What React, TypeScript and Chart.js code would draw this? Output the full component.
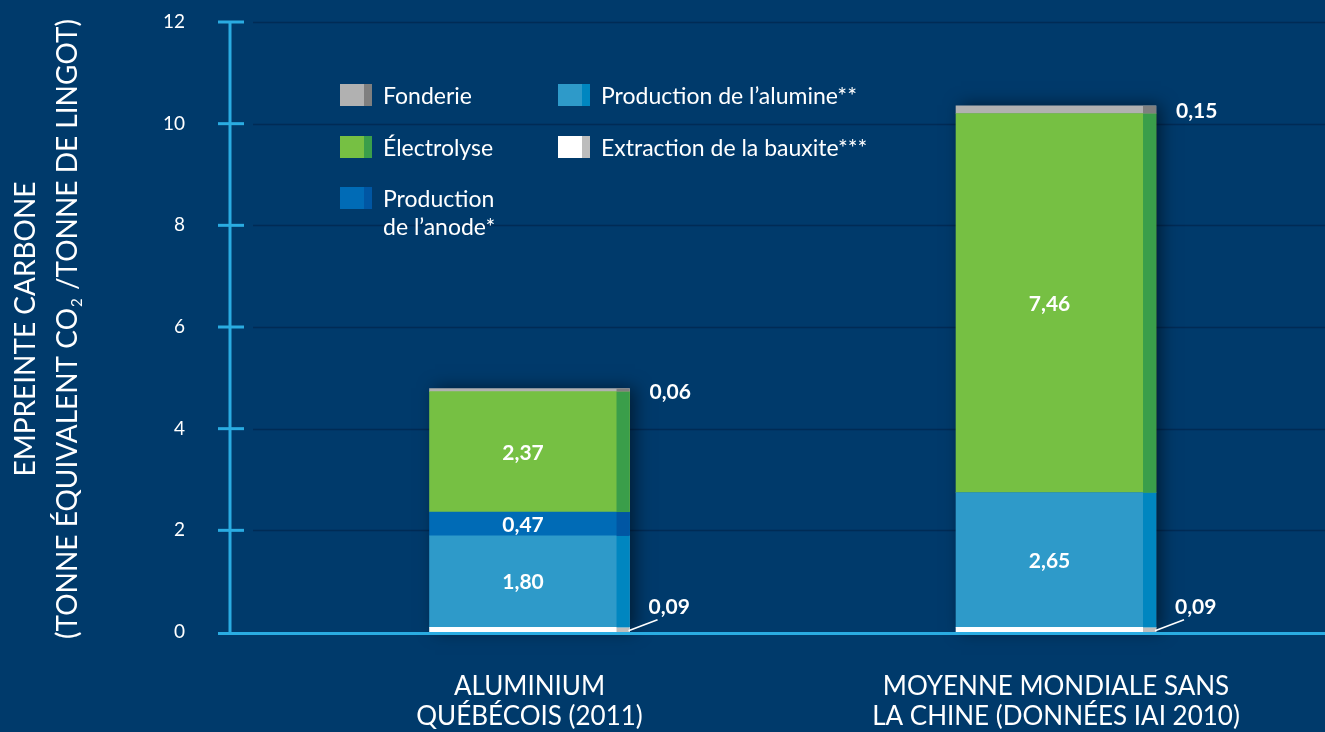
import React, { useEffect, useRef } from 'react';
import { Chart, registerables } from 'chart.js';

Chart.register(...registerables);

// ---------- data ----------
const categories: string[][] = [
  ['ALUMINIUM', 'QUÉBÉCOIS (2011)'],
  ['MOYENNE MONDIALE SANS', 'LA CHINE (DONNÉES IAI 2010)'],
];
const categoryPositions = [0, 1];

const seriesNames = [
  'Extraction de la bauxite***',
  'Production de l’alumine**',
  'Production de l’anode*',
  'Électrolyse',
  'Fonderie',
];
const bauxiteValues = [0.09, 0.09];
const alumineValues = [1.8, 2.65];
const anodeValues = [0.47, 0];
const electrolyseValues = [2.37, 7.46];
const fonderieValues = [0.06, 0.15];
const seriesValues = [bauxiteValues, alumineValues, anodeValues, electrolyseValues, fonderieValues];

const yTickValues = [0, 2, 4, 6, 8, 10, 12];
const yTitleLines = ['EMPREINTE CARBONE', '(TONNE ÉQUIVALENT CO₂ /TONNE DE LINGOT)'];

// ---------- style ----------
const BG = '#003A6B';
const GRID = '#002B55';
const AXIS = '#2AACE2';
const FONT = "Lato, 'Open Sans', sans-serif";
const fills = ['#FFFFFF', '#2E9AC9', '#006BB6', '#76C043', '#B1B1B1'];
const strips = ['#BDBDBD', '#0086C0', '#0056A3', '#3A9E4A', '#7F7F7F'];
const labelModes = ['leader', 'inside', 'inside', 'inside', 'outside'];
const legendSlots = [
  { x: 558, y: 136, wrap: false },
  { x: 558, y: 84, wrap: false },
  { x: 340, y: 187, wrap: true },
  { x: 340, y: 136, wrap: false },
  { x: 340, y: 84, wrap: false },
];
const STRIP = 13;

const fmt = (v: number) => v.toFixed(2).replace('.', ',');

const customPlugin = {
  id: 'customDraw',
  beforeDraw(chart: any) {
    const ctx = chart.ctx;
    ctx.save();
    ctx.fillStyle = BG;
    ctx.fillRect(0, 0, chart.width, chart.height);
    ctx.restore();
  },
  beforeDatasetsDraw(chart: any) {
    const ctx = chart.ctx;
    const { left, right } = chart.chartArea;
    const ys = chart.scales.y;
    ctx.save();
    ctx.strokeStyle = GRID;
    ctx.lineWidth = 1.5;
    ys.ticks.forEach((t: any) => {
      if (t.value === 0) return;
      const py = Math.round(ys.getPixelForValue(t.value)) + 0.5;
      ctx.beginPath();
      ctx.moveTo(left + 23, py);
      ctx.lineTo(right, py);
      ctx.stroke();
    });
    ctx.restore();

    // shadow behind each stacked bar
    const metas = chart.data.datasets.map((_: any, i: number) => chart.getDatasetMeta(i));
    const base = ys.getPixelForValue(0);
    categoryPositions.forEach((_, j) => {
      const els = metas.map((m: any) => m.data[j]).filter(Boolean);
      if (!els.length) return;
      const top = Math.min(...els.map((e: any) => Math.min(e.y, e.base)));
      const e0 = els[0];
      ctx.save();
      ctx.shadowColor = 'rgba(0,0,0,0.5)';
      ctx.shadowBlur = 16;
      ctx.shadowOffsetX = 5;
      ctx.shadowOffsetY = -1;
      ctx.fillStyle = BG;
      ctx.fillRect(e0.x - e0.width / 2, top, e0.width, base - top);
      ctx.restore();
    });
  },
  afterDatasetsDraw(chart: any) {
    const ctx = chart.ctx;
    const { left, right } = chart.chartArea;
    const ys = chart.scales.y;
    const metas = chart.data.datasets.map((_: any, i: number) => chart.getDatasetMeta(i));

    // right-side darker strip of each segment
    metas.forEach((m: any, i: number) => {
      m.data.forEach((e: any) => {
        const h = Math.abs(e.base - e.y);
        if (h < 0.5) return;
        ctx.fillStyle = strips[i];
        ctx.fillRect(e.x + e.width / 2 - STRIP, Math.min(e.y, e.base), STRIP, h);
      });
    });

    // axes
    const y0 = ys.getPixelForValue(0);
    const yTop = ys.getPixelForValue(12);
    ctx.save();
    ctx.strokeStyle = AXIS;
    ctx.lineWidth = 3;
    ctx.beginPath();
    ctx.moveTo(left, yTop);
    ctx.lineTo(left, y0 + 3);
    ctx.stroke();
    ys.ticks.forEach((t: any) => {
      const py = ys.getPixelForValue(t.value) + (t.value === 0 ? 1.5 : 0);
      ctx.beginPath();
      ctx.moveTo(left - 12, py);
      ctx.lineTo(t.value === 0 ? right : left + 14, py);
      ctx.stroke();
    });
    ctx.restore();

    // value labels
    ctx.save();
    ctx.fillStyle = '#FFFFFF';
    ctx.strokeStyle = '#FFFFFF';
    ctx.font = `bold 21px ${FONT}`;
    ctx.textBaseline = 'middle';
    metas.forEach((m: any, i: number) => {
      const vals = seriesValues[i];
      m.data.forEach((e: any, j: number) => {
        const v = vals[j];
        if (!v) return;
        const txt = fmt(v);
        const barRight = e.x + e.width / 2;
        const cy = (e.y + e.base) / 2;
        const mode = labelModes[i];
        if (mode === 'inside') {
          ctx.textAlign = 'center';
          ctx.fillText(txt, e.x - STRIP / 2, cy + 1);
        } else if (mode === 'outside') {
          ctx.textAlign = 'left';
          ctx.fillText(txt, barRight + 20, cy + 2);
        } else {
          ctx.lineWidth = 1.5;
          ctx.beginPath();
          ctx.moveTo(barRight - 1, cy + 1);
          ctx.lineTo(barRight + 28, cy - 10);
          ctx.stroke();
          ctx.textAlign = 'left';
          ctx.fillText(txt, barRight + 19, cy - 22);
        }
      });
    });
    ctx.restore();
  },
  afterDraw(chart: any) {
    const ctx = chart.ctx;
    // legend
    ctx.save();
    ctx.font = `23px ${FONT}`;
    ctx.textAlign = 'left';
    ctx.textBaseline = 'alphabetic';
    legendSlots.forEach((s, i) => {
      const w = 32, h = 22, sw = 8;
      ctx.fillStyle = fills[i];
      ctx.fillRect(s.x, s.y, w - sw, h);
      ctx.fillStyle = strips[i];
      ctx.fillRect(s.x + w - sw, s.y, sw, h);
      const name = seriesNames[i];
      let lines = [name];
      if (s.wrap) {
        const k = name.indexOf(' ');
        lines = [name.slice(0, k), name.slice(k + 1)];
      }
      ctx.fillStyle = '#FFFFFF';
      lines.forEach((ln, li) => {
        ctx.fillText(ln, s.x + 43, s.y + h / 2 + 8.5 + li * 28.5);
      });
    });
    ctx.restore();

    // y axis title
    const ys = chart.scales.y;
    const cy = (ys.top + ys.bottom) / 2 + 2;
    const TS = 28;
    ctx.save();
    ctx.fillStyle = '#FFFFFF';
    ctx.textBaseline = 'alphabetic';
    // line 1
    ctx.save();
    ctx.translate(35, cy);
    ctx.rotate(-Math.PI / 2);
    ctx.font = `${TS}px ${FONT}`;
    ctx.textAlign = 'center';
    ctx.fillText(yTitleLines[0], 0, 0);
    ctx.restore();
    // line 2 with subscript
    ctx.save();
    ctx.translate(77, cy);
    ctx.rotate(-Math.PI / 2);
    const line = yTitleLines[1];
    const k = line.indexOf('₂');
    const p1 = line.slice(0, k);
    const p2 = line.slice(k + 1);
    ctx.font = `${TS}px ${FONT}`;
    const w1 = ctx.measureText(p1).width;
    const w2 = ctx.measureText(p2).width;
    ctx.font = `15px ${FONT}`;
    const ws = ctx.measureText('2').width + 2;
    const total = w1 + ws + w2;
    let x = -total / 2;
    ctx.textAlign = 'left';
    ctx.font = `${TS}px ${FONT}`;
    ctx.fillText(p1, x, 0);
    x += w1 + 1;
    ctx.font = `15px ${FONT}`;
    ctx.fillText('2', x, 5);
    x += ws - 1;
    ctx.font = `${TS}px ${FONT}`;
    ctx.fillText(p2, x, 0);
    ctx.restore();
    ctx.restore();
  },
};

export default function App() {
  const ref = useRef<HTMLCanvasElement | null>(null);
  useEffect(() => {
    if (!ref.current) return;
    const chart = new Chart(ref.current, {
      type: 'bar',
      data: {
        datasets: seriesNames.map((name, i) => ({
          label: name,
          data: categoryPositions.map((x, j) => ({ x, y: seriesValues[i][j] })),
          backgroundColor: fills[i],
          borderWidth: 0,
          barThickness: 200,
        })),
      },
      options: {
        responsive: false,
        animation: false,
        layout: { padding: { top: 22, left: 0, right: 0, bottom: 0 } },
        plugins: { legend: { display: false }, tooltip: { enabled: false } },
        scales: {
          x: {
            type: 'linear',
            stacked: true,
            offset: false,
            min: -0.5689,
            max: 1.5109,
            grid: { display: false, drawTicks: false },
            border: { display: false },
            afterBuildTicks: (axis: any) => {
              axis.ticks = categoryPositions.map((v) => ({ value: v }));
            },
            afterFit: (scale: any) => {
              scale.height = 100;
              scale.paddingLeft = 0;
              scale.paddingRight = 0;
            },
            ticks: {
              autoSkip: false,
              maxRotation: 0,
              color: '#FFFFFF',
              padding: 39,
              font: { family: FONT, size: 26, lineHeight: 1.17 },
              callback: (_v: any, idx: number) => categories[idx],
            },
          },
          y: {
            stacked: true,
            min: 0,
            max: 12,
            grid: { display: false, drawTicks: false },
            border: { display: false },
            afterBuildTicks: (axis: any) => {
              axis.ticks = yTickValues.map((v) => ({ value: v }));
            },
            afterFit: (scale: any) => {
              scale.width = 230;
              scale.paddingTop = 0;
              scale.paddingBottom = 0;
            },
            ticks: {
              color: '#FFFFFF',
              padding: 45,
              font: { family: FONT, size: 19 },
            },
          },
        },
      },
      plugins: [customPlugin],
    } as any);
    return () => chart.destroy();
  }, []);
  return (
    <>
      <style>{`body{margin:0;background:${BG};}`}</style>
      <canvas ref={ref} width={1325} height={732} style={{ display: 'block' }} />
    </>
  );
}
